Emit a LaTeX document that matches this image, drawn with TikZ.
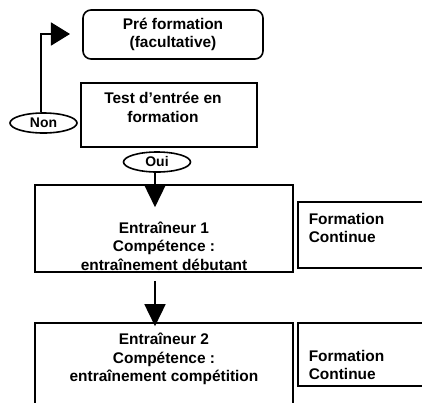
\documentclass[tikz,border=0pt]{standalone}
\usepackage{fontspec}
\setmainfont{Liberation Sans}
\usetikzlibrary{arrows.meta}
\usetikzlibrary{positioning}
\usetikzlibrary{shapes.geometric}

\begin{document}
\begin{tikzpicture}[x=1bp,y=-1bp,line width=1.6bp,
  >={Triangle[length=22bp,width=21bp]},
  font=\bfseries\fontsize{15.5}{18.5}\selectfont,
  main node/.style={rectangle,draw,inner sep=0pt},
  round node/.style={main node,rounded corners=8bp,align=center},
  oval node/.style={ellipse,draw,inner sep=0pt,minimum width=67bp,
    minimum height=20bp,font=\bfseries\fontsize{14}{16}\selectfont},
  text node/.style={align=center,inner sep=0pt}]

  \useasboundingbox (0,0) rectangle (422,403);
  \clip (0,0) rectangle (422,403);

  \node[round node,minimum width=180bp,minimum height=49bp] (1) at (173,34.5) {Pré formation\\(facultative)};
  \node[main node,minimum width=176bp,minimum height=64bp] (2) at (169,115) {};
  \node[text node] (2t) at (163,107.5) {Test d’entrée en\\formation};
  \node[oval node] (3) at (43.5,123) {Non};
  \node[oval node] (4) at (157,162) {Oui};

  \node[main node,minimum width=258bp,minimum height=87bp] (5) at (164,228.5) {};
  \node[text node] (5t) at (164,246) {Entraîneur 1\\Compétence :\\entraînement débutant};
  \node[main node,minimum width=142bp,minimum height=66bp] (6) at (369,235) {};
  \node[text node,align=left,anchor=west] (6t) at (308,228) {Formation\\Continue};

  \node[main node,minimum width=258bp,minimum height=117bp] (7) at (164,381.5) {};
  \node[text node] (7t) at (164,359) {Entraîneur 2\\Compétence :\\entraînement compétition};
  \node[main node,minimum width=142bp,minimum height=63bp] (8) at (369,354.5) {};
  \node[text node,align=left,anchor=west] (8t) at (308,365) {Formation\\Continue};

  \coordinate (9) at (70,34);

  \draw[->,>={Triangle[length=19bp,width=23bp]}] ([xshift=-2.5bp]3.north) |- (9);
  \draw[->] ([xshift=-2bp]4.south) -- ([xshift=-9bp,yshift=-23bp]5.north);
  \draw[->] ([xshift=-9bp,yshift=-8bp]5.south) -- ([xshift=-9bp,yshift=-4bp]7.north);
\end{tikzpicture}
\end{document}
